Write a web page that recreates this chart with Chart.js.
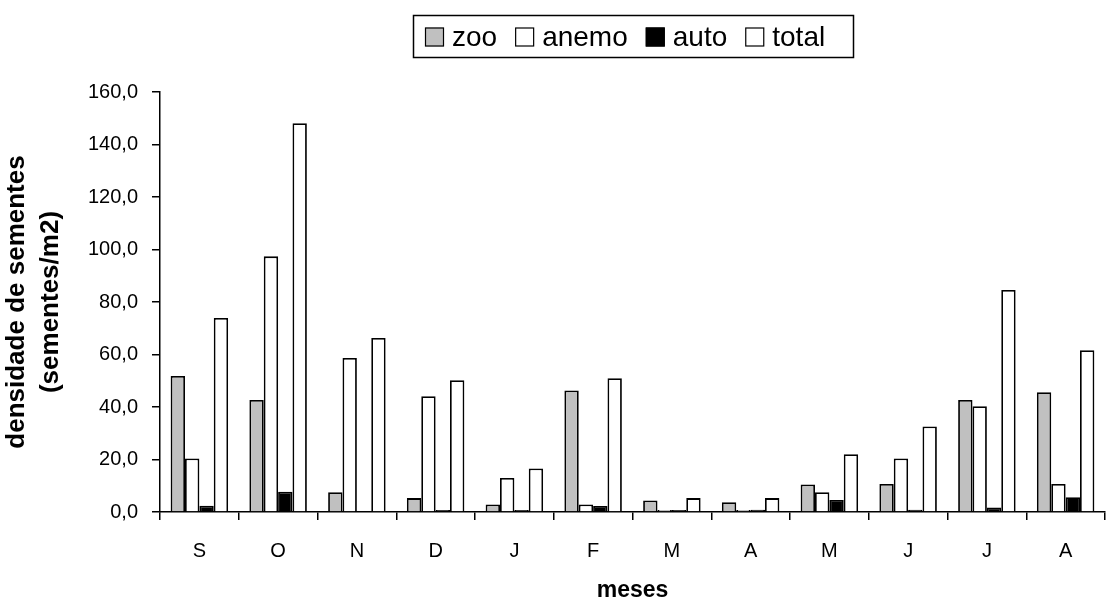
<!DOCTYPE html>
<html>
<head>
<meta charset="utf-8">
<script src="https://cdn.jsdelivr.net/npm/chart.js@4.4.1/dist/chart.umd.min.js"></script>
<style>
  html, body { margin: 0; padding: 0; background: #fff; }
  #wrap { width: 1107px; height: 602px; }
</style>
</head>
<body>
<div id="wrap"><canvas id="c" width="1107" height="602"></canvas></div>
<script>
const categories = ['S', 'O', 'N', 'D', 'J', 'F', 'M', 'A', 'M', 'J', 'J', 'A'];
const zoo   = [51.8, 42.7, 7.5, 5.3, 2.9, 46.3, 4.4, 3.7, 10.5, 10.7, 42.7, 45.6];
const anemo = [20.4, 97.4, 58.7, 44.1, 13.0, 2.9, 0.8, 0.8, 7.5, 20.4, 40.3, 10.7];
const auto  = [2.4, 7.7, 0.0, 0.8, 0.8, 2.3, 0.8, 0.9, 4.6, 0.9, 1.7, 5.6];
const total = [73.9, 148.1, 66.3, 50.2, 16.6, 51.0, 5.3, 5.3, 22.0, 32.6, 84.6, 61.6];
const seriesNames = ['zoo', 'anemo', 'auto', 'total'];
const seriesColors = ['#c0c0c0', '#ffffff', '#000000', '#ffffff'];
const yTicks = [0, 20, 40, 60, 80, 100, 120, 140, 160];
const yTitle = ['densidade de sementes', '(sementes/m2)'];
const xTitle = 'meses';

const FONT = "'Liberation Sans', Arial, Helvetica, sans-serif";

const boxLegend = {
  id: 'boxLegend',
  afterDraw(chart) {
    const ctx = chart.ctx;
    ctx.save();
    ctx.strokeStyle = '#000';
    ctx.lineWidth = 1.5;
    ctx.strokeRect(413.5, 15.5, 440, 42);
    ctx.font = '28px ' + FONT;
    ctx.textBaseline = 'middle';
    ctx.textAlign = 'left';
    let x = 425;
    const cy = 37;
    chart.data.datasets.forEach((ds) => {
      ctx.fillStyle = ds.backgroundColor;
      ctx.fillRect(x, cy - 9.5, 19, 19);
      ctx.strokeStyle = '#000';
      ctx.lineWidth = 1.2;
      ctx.strokeRect(x + 0.5, cy - 9, 18, 18);
      ctx.fillStyle = '#000';
      ctx.fillText(ds.label, x + 27, cy + 1);
      x += 27 + ctx.measureText(ds.label).width + 18;
    });
    ctx.restore();
  }
};

const datasets = [zoo, anemo, auto, total].map((arr, i) => ({
  label: seriesNames[i],
  data: arr,
  backgroundColor: seriesColors[i],
  borderColor: '#000',
  borderWidth: 1.8,
  categoryPercentage: 0.73,
  barPercentage: 1.0
}));

new Chart(document.getElementById('c'), {
  type: 'bar',
  data: { labels: categories, datasets },
  plugins: [boxLegend],
  options: {
    responsive: false,
    animation: false,
    layout: { padding: { top: 92, right: 2, left: 0, bottom: 0 } },
    plugins: {
      legend: { display: false },
      tooltip: { enabled: false },
      title: { display: false }
    },
    scales: {
      x: {
        grid: { display: true, offset: true, drawOnChartArea: false, drawTicks: true, tickLength: 8, color: '#000', lineWidth: 1.5 },
        border: { display: true, color: '#000', width: 1.5 },
        ticks: { color: '#000', font: { family: FONT, size: 20 }, padding: 19, maxRotation: 0 },
        title: { display: true, text: xTitle, color: '#000', font: { family: FONT, size: 23, weight: 'bold', lineHeight: 0.95 }, padding: { top: 0, bottom: 0 } },
        afterFit(scale) { scale.height = 90; }
      },
      y: {
        min: 0,
        max: 160,
        afterBuildTicks(scale) { scale.ticks = yTicks.map(v => ({ value: v })); },
        grid: { display: true, drawOnChartArea: false, drawTicks: true, tickLength: 8, color: '#000', lineWidth: 1.5 },
        border: { display: true, color: '#000', width: 1.5 },
        ticks: {
          color: '#000',
          font: { family: FONT, size: 20 },
          padding: 14,
          callback: (v) => Number(v).toFixed(1).replace('.', ',')
        },
        title: { display: true, text: yTitle, color: '#000', font: { family: FONT, size: 26, weight: 'bold', lineHeight: 1.3 }, padding: { top: 0, bottom: 0 } },
        afterFit(scale) { scale.width = 160; }
      }
    }
  }
});
</script>
</body>
</html>
